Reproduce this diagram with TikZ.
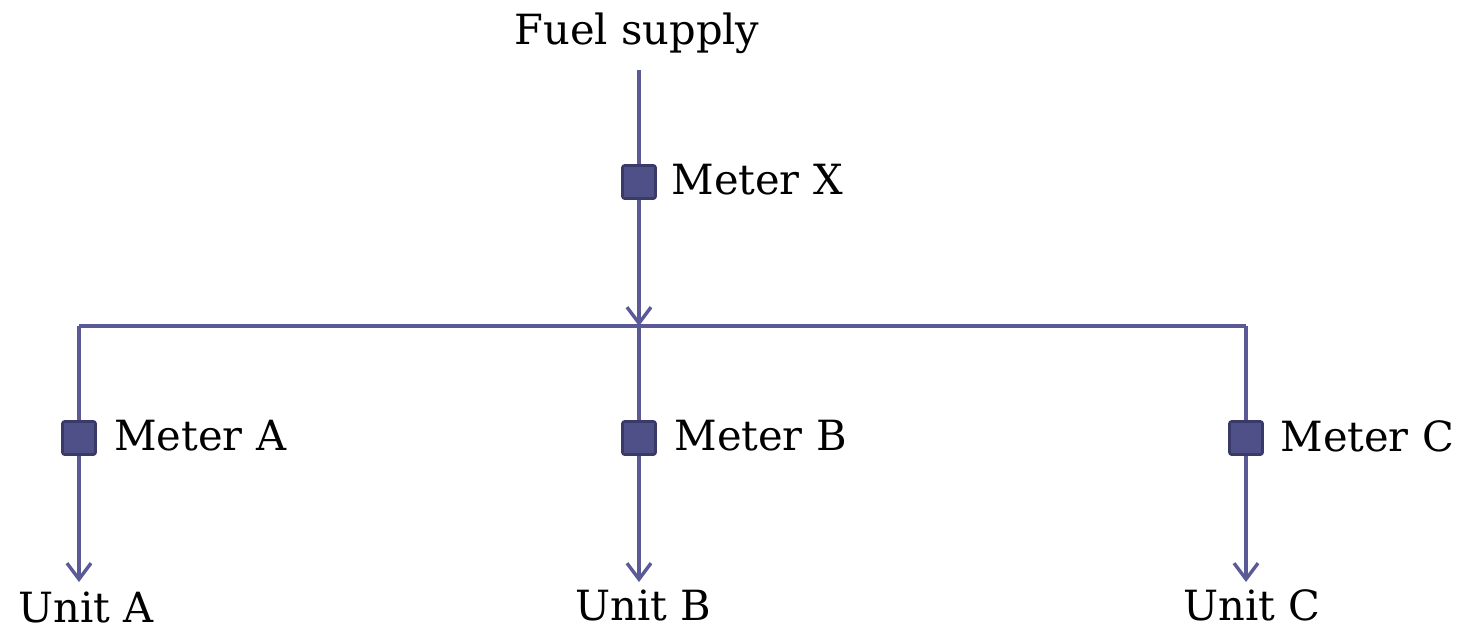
\documentclass[tikz,border=0pt]{standalone}
\usepackage{fontspec}
\setmainfont{DejaVu Serif}
\usetikzlibrary{arrows.meta}
\definecolor{pipe}{HTML}{5A5A96}
\definecolor{meterfill}{HTML}{505088}
\definecolor{meterline}{HTML}{3A3A68}
\tikzset{
	flow/.style={draw=pipe, line width=1.7pt},
	arrowflow/.style={flow, -{Straight Barb[length=8pt, width=12pt, line width=1.7pt]}},
	meter/.style={draw=meterline, fill=meterfill, line width=1.3pt, rectangle, rounded corners=1pt, minimum size=16.5pt, inner sep=0pt},
	lbl/.style={font=\fontsize{20.8}{24}\selectfont, inner sep=0pt}
}
\begin{document}
\begin{tikzpicture}[x=0.5pt, y=-0.5pt]
				\useasboundingbox (0,0) rectangle (1457,629);

				% Fuel supply and main meter
				\node[lbl] (fuel) at (637,33) {Fuel supply};
				\coordinate (inlet) at (639,70);
				\coordinate (split) at (639,326);
				\node[meter] (mx) at (639,182) {};
				\node[lbl, anchor=west] (mxlbl) at (671,180) {Meter X};
				\draw[flow] (inlet) -- (mx);
				\draw[arrowflow] (mx) -- (split);

				% Header
				\coordinate (ha) at (79,326);
				\coordinate (hc) at (1246,326);
				\draw[flow] (ha) -- (hc);

				% Meters on each branch
				\node[meter] (ma) at (79,438) {};
				\node[meter] (mb) at (639,438) {};
				\node[meter] (mc) at (1246,438) {};
				\node[lbl, anchor=west] (malbl) at (114,436) {Meter A};
				\node[lbl, anchor=west] (mblbl) at (674,436) {Meter B};
				\node[lbl, anchor=west] (mclbl) at (1280,436) {Meter C};

				% Units
				\node[lbl] (ua) at (86,607) {Unit A};
				\node[lbl] (ub) at (643,605) {Unit B};
				\node[lbl] (uc) at (1252,605) {Unit C};
				\coordinate (ea) at (79,582);
				\coordinate (eb) at (639,582);
				\coordinate (ec) at (1246,582);

				\draw[flow] (ha) -- (ma);
				\draw[flow] (split) -- (mb);
				\draw[flow] (hc) -- (mc);
				\draw[arrowflow] (ma) -- (ea);
				\draw[arrowflow] (mb) -- (eb);
				\draw[arrowflow] (mc) -- (ec);
			\end{tikzpicture}
\end{document}
